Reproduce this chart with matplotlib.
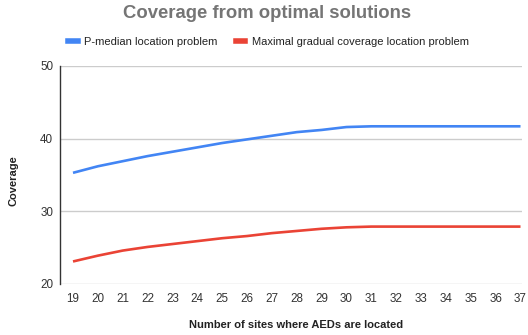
import matplotlib
matplotlib.use("Agg")
import matplotlib.pyplot as plt
from matplotlib.lines import Line2D

plt.rcParams["font.family"] = ["Liberation Sans", "DejaVu Sans"]

sites = list(range(19, 38))
p_median = [35.3, 36.2, 36.9, 37.6, 38.2, 38.8, 39.4, 39.9, 40.4, 40.9,
            41.2, 41.6, 41.7, 41.7, 41.7, 41.7, 41.7, 41.7, 41.7]
gradual = [23.1, 23.9, 24.6, 25.1, 25.5, 25.9, 26.3, 26.6, 27.0, 27.3,
           27.6, 27.8, 27.9, 27.9, 27.9, 27.9, 27.9, 27.9, 27.9]
y_ticks = [20, 30, 40, 50]

BLUE = "#4285F4"
RED = "#EA4335"

W, H = 528, 335
fig = plt.figure(figsize=(W / 100, H / 100), dpi=100)
fig.patch.set_facecolor("white")

left, right, top, bottom = 60, 522, 66, 284
ax = fig.add_axes([left / W, 1 - bottom / H, (right - left) / W, (bottom - top) / H])

ax.plot(sites, p_median, color=BLUE, lw=1.9, solid_capstyle="butt")
ax.plot(sites, gradual, color=RED, lw=1.9, solid_capstyle="butt")

x_first, x_last = 73, 520.5
px_per_unit = (x_last - x_first) / 18
ax.set_xlim(19 - (x_first - left) / px_per_unit, 37 + (right - x_last) / px_per_unit)
ax.set_ylim(20, 50)
ax.set_xticks(sites)
ax.set_yticks(y_ticks)
ax.tick_params(axis="both", length=0, labelsize=8.4, labelcolor="#333333")
ax.tick_params(axis="x", pad=6.5)
ax.tick_params(axis="y", pad=5)
ax.grid(axis="y", color="#cccccc", lw=1)
ax.set_axisbelow(True)
for s in ["top", "right"]:
    ax.spines[s].set_visible(False)
ax.spines["bottom"].set_visible(False)
ax.spines["left"].set_color("#333333")
ax.spines["left"].set_linewidth(1)

fig.text(267.5 / W, 1 - 13.5 / H, "Coverage from optimal solutions", ha="center", va="center",
         fontsize=13.3, fontweight="bold", color="#757575")
fig.text(13.5 / W, 1 - 181 / H, "Coverage", rotation=90, ha="center", va="center",
         fontsize=8, fontweight="bold", color="#222222")
fig.text(296.5 / W, 1 - 325 / H, "Number of sites where AEDs are located", ha="center", va="center",
         fontsize=8, fontweight="bold", color="#222222")

handles = [Line2D([], [], color=BLUE, lw=4), Line2D([], [], color=RED, lw=4)]
labels = ["P-median location problem", "Maximal gradual coverage location problem"]
fig.legend(handles, labels, loc="center", bbox_to_anchor=(268.5 / W, 1 - 42 / H), ncol=2,
           frameon=False, fontsize=8, handlelength=0.85, handletextpad=0.6, columnspacing=1.6,
           labelcolor="#222222")

fig.savefig("out.png", dpi=100, facecolor="white")
